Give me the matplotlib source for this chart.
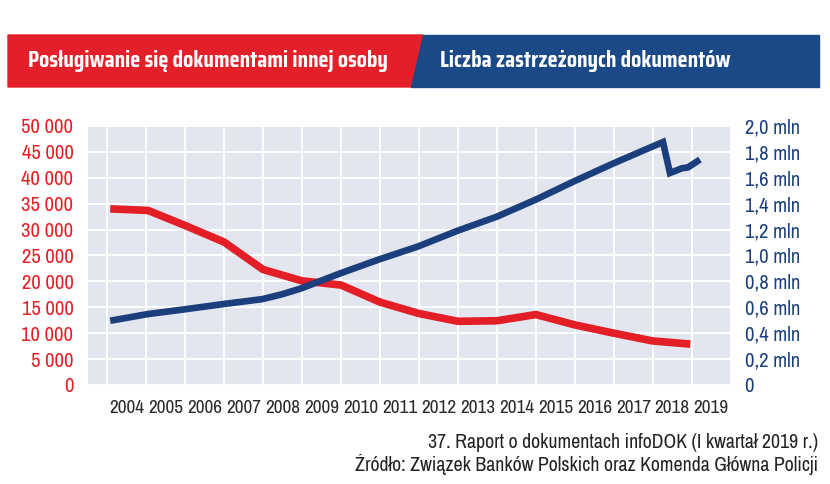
import matplotlib
matplotlib.use("Agg")
import matplotlib.pyplot as plt
from matplotlib.patches import Polygon

plt.rcParams['font.family'] = ['Archivo Narrow', 'DejaVu Sans']

# lata (etykiety osi X)
years = list(range(2004, 2020))

# Posługiwanie się dokumentami innej osoby (lewa oś)
red_x = [0.08, 1.05, 2, 3, 4, 5, 6, 7, 8, 9, 10, 11, 12, 13, 14, 14.96]
red_y = [34000, 33700, 30800, 27600, 22300, 20100, 19300, 16000, 13800,
         12300, 12400, 13600, 11600, 10000, 8500, 7900]

# Liczba zastrzeżonych dokumentów, mln (prawa oś)
blue_x = [0.08, 1.05, 1.98, 2.98, 3.98, 4.48, 4.98, 5.98, 6.98, 7.98, 8.98,
          10.0, 11.0, 11.98, 12.98, 13.67, 14.26, 14.44, 14.75, 14.9, 15.21]
blue_y = [0.496, 0.548, 0.584, 0.625, 0.663, 0.70, 0.746, 0.862, 0.97, 1.07,
          1.19, 1.30, 1.432, 1.573, 1.71, 1.80, 1.876, 1.637, 1.674, 1.68, 1.741]

left_ticks = list(range(0, 50001, 5000))
right_ticks = [0, 0.2, 0.4, 0.6, 0.8, 1.0, 1.2, 1.4, 1.6, 1.8, 2.0]

RED = '#e31e26'
BLUE = '#1b3f7c'
W, H = 830, 484

fig = plt.figure(figsize=(8.3, 4.84), dpi=100)

# nagłówek
def px(x, y):
    return (x / W, 1 - y / H)

fig.patches.append(Polygon([px(8, 35), px(423, 35), px(411, 87), px(8, 87)],
                           closed=True, transform=fig.transFigure, color='#e3202a'))
fig.patches.append(Polygon([px(423, 35), px(819, 35), px(819, 87), px(411, 87)],
                           closed=True, transform=fig.transFigure, color='#1b4886'))
head_font = ['Saira Condensed', 'DejaVu Sans']
fig.text(28 / W, 1 - 61 / H, 'Posługiwanie się dokumentami innej osoby', color='white',
         fontsize=16.9, fontweight='bold', family=head_font, va='center', ha='left')
fig.text(440 / W, 1 - 61 / H, 'Liczba zastrzeżonych dokumentów', color='white',
         fontsize=16.9, fontweight='bold', family=head_font, va='center', ha='left')

ax = fig.add_axes([88 / W, 1 - 385 / H, (730 - 88) / W, (385 - 126) / H])
ax.set_facecolor('#e3e6ef')
for s in ax.spines.values():
    s.set_visible(False)

ax2 = ax.twinx()
for s in ax2.spines.values():
    s.set_visible(False)

ax.plot(red_x, red_y, color=RED, lw=5.5, solid_capstyle='butt', solid_joinstyle='miter', zorder=3)
ax2.plot(blue_x, blue_y, color=BLUE, lw=4.8, solid_capstyle='butt', solid_joinstyle='miter', zorder=3)

ax.set_xlim(-0.49, 15.98)
ax.set_ylim(0, 50000)
ax2.set_ylim(0, 2.0)

ax.set_xticks(range(16))
ax.set_xticklabels([])
ax.set_xticks([i + 0.5 for i in range(16)], minor=True)
ax.set_xticklabels([str(y) for y in years], minor=True, fontsize=13.8, color='#2a2a2a')
ax.tick_params(axis='x', which='both', length=0, pad=10.5)

ax.set_yticks(left_ticks)
ax.set_yticklabels([f'{v:,}'.replace(',', ' ') for v in left_ticks], fontsize=14.8, color=RED)
ax.tick_params(axis='y', length=0, pad=10.5)

ax2.set_yticks(right_ticks)
ax2.set_yticklabels(['0'] + [f'{v:.1f} mln'.replace('.', ',') for v in right_ticks[1:]],
                    fontsize=14.8, color=BLUE)
ax2.tick_params(axis='y', length=0, pad=10.5)

ax.grid(True, which='major', color='white', lw=1.4)
ax.set_axisbelow(True)

fig.text(818 / W, 1 - 442 / H, '37. Raport o dokumentach infoDOK (I kwartał 2019 r.)',
         ha='right', va='center', fontsize=14.3, color='#222222')
fig.text(818 / W, 1 - 464 / H, 'Źródło: Związek Banków Polskich oraz Komenda Główna Policji',
         ha='right', va='center', fontsize=14.3, color='#222222')

fig.savefig('out.png', dpi=100)
